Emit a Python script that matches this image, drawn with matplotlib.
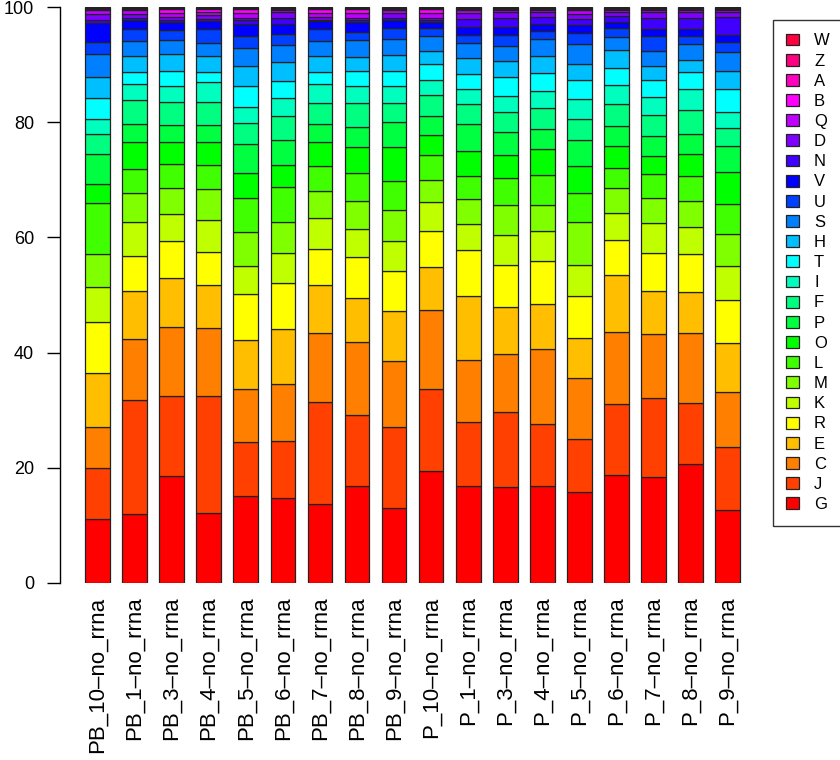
import numpy as np
import matplotlib
matplotlib.use("Agg")
import matplotlib.pyplot as plt
from matplotlib.colors import hsv_to_rgb
from matplotlib.patches import Patch

plt.rcParams['font.family'] = ['Liberation Sans', 'DejaVu Sans']

samples = ["PB_10–no_rrna", "PB_1–no_rrna", "PB_3–no_rrna", "PB_4–no_rrna",
           "PB_5–no_rrna", "PB_6–no_rrna", "PB_7–no_rrna", "PB_8–no_rrna",
           "PB_9–no_rrna", "P_10–no_rrna", "P_1–no_rrna", "P_3–no_rrna",
           "P_4–no_rrna", "P_5–no_rrna", "P_6–no_rrna", "P_7–no_rrna",
           "P_8–no_rrna", "P_9–no_rrna"]

# categories from bottom of the stack to top
categories = ["G", "J", "C", "E", "R", "K", "M", "L", "O", "P", "F", "I",
              "T", "H", "S", "U", "V", "N", "D", "Q", "B", "A", "Z", "W"]

# cumulative percentage at the upper edge of each category's segment
G = [11.07, 11.94, 18.61, 12.12, 15.07, 14.67, 13.74, 16.76, 13.04, 19.36, 16.76, 16.64, 16.81, 15.71, 18.78, 18.44, 20.58, 12.64]
J = [19.94, 31.77, 32.41, 32.41, 24.41, 24.64, 31.42, 29.22, 27.02, 33.68, 28.00, 29.68, 27.54, 25.04, 31.07, 32.12, 31.19, 23.65]
C = [27.02, 42.44, 44.52, 44.23, 33.74, 34.61, 43.42, 41.80, 38.55, 47.42, 38.73, 39.83, 40.58, 35.54, 43.54, 43.19, 43.48, 33.16]
E = [36.41, 50.62, 52.88, 51.77, 42.26, 44.12, 51.77, 49.55, 47.19, 54.85, 49.86, 48.00, 48.47, 42.61, 53.51, 50.61, 50.44, 41.62]
R = [45.33, 56.70, 59.43, 57.46, 50.15, 52.06, 57.98, 56.53, 54.21, 61.05, 57.86, 55.14, 55.83, 49.83, 59.60, 57.28, 57.17, 49.05]
K = [51.37, 62.67, 64.12, 63.08, 55.08, 57.28, 63.37, 61.46, 59.43, 66.15, 62.33, 60.41, 61.05, 55.14, 64.30, 62.50, 61.75, 54.96]
M = [57.17, 67.66, 68.53, 68.47, 60.93, 62.73, 68.12, 66.27, 64.76, 69.92, 66.73, 65.63, 65.69, 62.62, 68.59, 66.79, 66.27, 60.53]
L = [65.98, 71.95, 72.76, 72.53, 66.79, 68.70, 72.36, 71.14, 69.75, 74.33, 70.73, 70.33, 70.79, 67.72, 72.01, 71.08, 70.62, 65.86]
O = [69.34, 76.53, 76.53, 76.64, 71.20, 72.53, 76.53, 75.77, 75.66, 77.80, 75.08, 74.33, 75.31, 72.36, 75.83, 74.21, 74.50, 71.31]
P = [74.56, 79.72, 79.54, 79.54, 76.24, 76.88, 79.77, 79.25, 80.01, 81.17, 79.77, 78.27, 78.85, 76.93, 79.31, 77.69, 77.98, 75.83]
F = [78.04, 83.83, 83.60, 83.60, 79.89, 81.05, 83.37, 83.37, 83.31, 84.70, 83.25, 81.80, 82.44, 80.59, 83.20, 81.34, 82.21, 78.96]
I = [80.59, 86.73, 86.33, 87.02, 82.62, 84.30, 86.62, 86.27, 86.27, 87.37, 85.80, 84.64, 85.40, 84.12, 86.50, 84.36, 85.80, 81.75]
T = [84.18, 88.82, 88.88, 88.82, 86.27, 87.14, 88.82, 88.88, 88.99, 90.15, 88.41, 87.83, 88.53, 87.43, 89.51, 87.31, 88.82, 85.80]
H = [87.83, 91.60, 91.95, 91.49, 89.75, 90.50, 91.49, 91.43, 91.72, 92.35, 91.14, 90.62, 91.54, 90.15, 92.53, 89.75, 90.91, 88.88]
S = [91.83, 94.15, 94.33, 93.75, 92.93, 93.46, 94.09, 94.27, 94.50, 94.96, 93.75, 93.34, 94.50, 93.63, 94.79, 92.35, 93.63, 92.18]
U = [93.98, 96.30, 96.01, 96.24, 94.96, 95.37, 96.24, 95.77, 96.41, 96.41, 95.25, 95.25, 95.95, 95.54, 96.47, 94.96, 94.96, 93.92]
V = [97.34, 97.86, 97.40, 97.69, 97.17, 97.17, 97.57, 97.46, 97.86, 97.46, 96.53, 96.59, 97.17, 96.99, 97.40, 96.30, 96.24, 95.25]
N = [97.75, 98.15, 97.75, 97.98, 97.75, 98.15, 97.86, 97.75, 98.15, 97.75, 98.04, 98.09, 98.33, 97.98, 98.44, 98.15, 98.15, 98.27]
D = [98.90, 98.90, 98.33, 98.73, 98.15, 99.14, 98.33, 98.15, 99.00, 98.15, 99.00, 99.14, 99.14, 98.90, 99.14, 99.14, 99.14, 99.14]
Q = [99.50, 99.60, 99.00, 99.14, 99.00, 99.60, 99.00, 99.00, 99.50, 99.00, 99.60, 99.60, 99.60, 99.60, 99.60, 99.60, 99.60, 99.60]
B = [99.75] * 18
A = [99.85] * 18
Z = [99.93] * 18
W = [100.0] * 18

tops = np.array([G, J, C, E, R, K, M, L, O, P, F, I, T, H, S, U, V, N, D, Q, B, A, Z, W])
heights = np.diff(np.vstack([np.zeros(len(samples)), tops]), axis=0)

n = len(categories)
colors = [hsv_to_rgb((k / n, 1.0, 1.0)) for k in range(n)]

fig = plt.figure(figsize=(8.4, 7.6), dpi=100)
fig.patch.set_facecolor('white')
ax = fig.add_axes([60 / 840, (760 - 582.7) / 760, 700 / 840, 575.4 / 760])

x = np.arange(len(samples))
bottom = np.zeros(len(samples))
for k, cat in enumerate(categories):
    ax.bar(x, heights[k], bottom=bottom, width=0.667, color=colors[k],
           edgecolor='#222222', linewidth=0.9, label=cat)
    bottom += heights[k]

ax.set_xlim((60 - 97.6) / 37.06, (760 - 97.6) / 37.06)
ax.set_ylim(0, 100)
ax.set_yticks([0, 20, 40, 60, 80, 100])
ax.set_xticks(x)
ax.set_xticklabels(samples, rotation=90, fontsize=16)
for s in ['top', 'right', 'bottom']:
    ax.spines[s].set_visible(False)
ax.spines['left'].set_linewidth(1.0)
ax.tick_params(axis='y', length=9.6, width=1.0, pad=9, labelsize=13)
ax.tick_params(axis='x', length=0, pad=10)

handles = [Patch(facecolor=colors[k], edgecolor='#222222', linewidth=0.9)
           for k in range(n)][::-1]
labels = categories[::-1]
leg = fig.legend(handles, labels, loc='upper left',
                 bbox_to_anchor=(772.7 / 840, 1 - 20 / 760),
                 bbox_transform=fig.transFigure, fontsize=12,
                 frameon=True, fancybox=False, borderaxespad=0,
                 handlelength=0.78, handleheight=0.72, handletextpad=0.9,
                 labelspacing=0.31, borderpad=0.8)
leg.get_frame().set_edgecolor('black')
leg.get_frame().set_linewidth(1.0)

fig.savefig('out.png', dpi=100, facecolor='white')
